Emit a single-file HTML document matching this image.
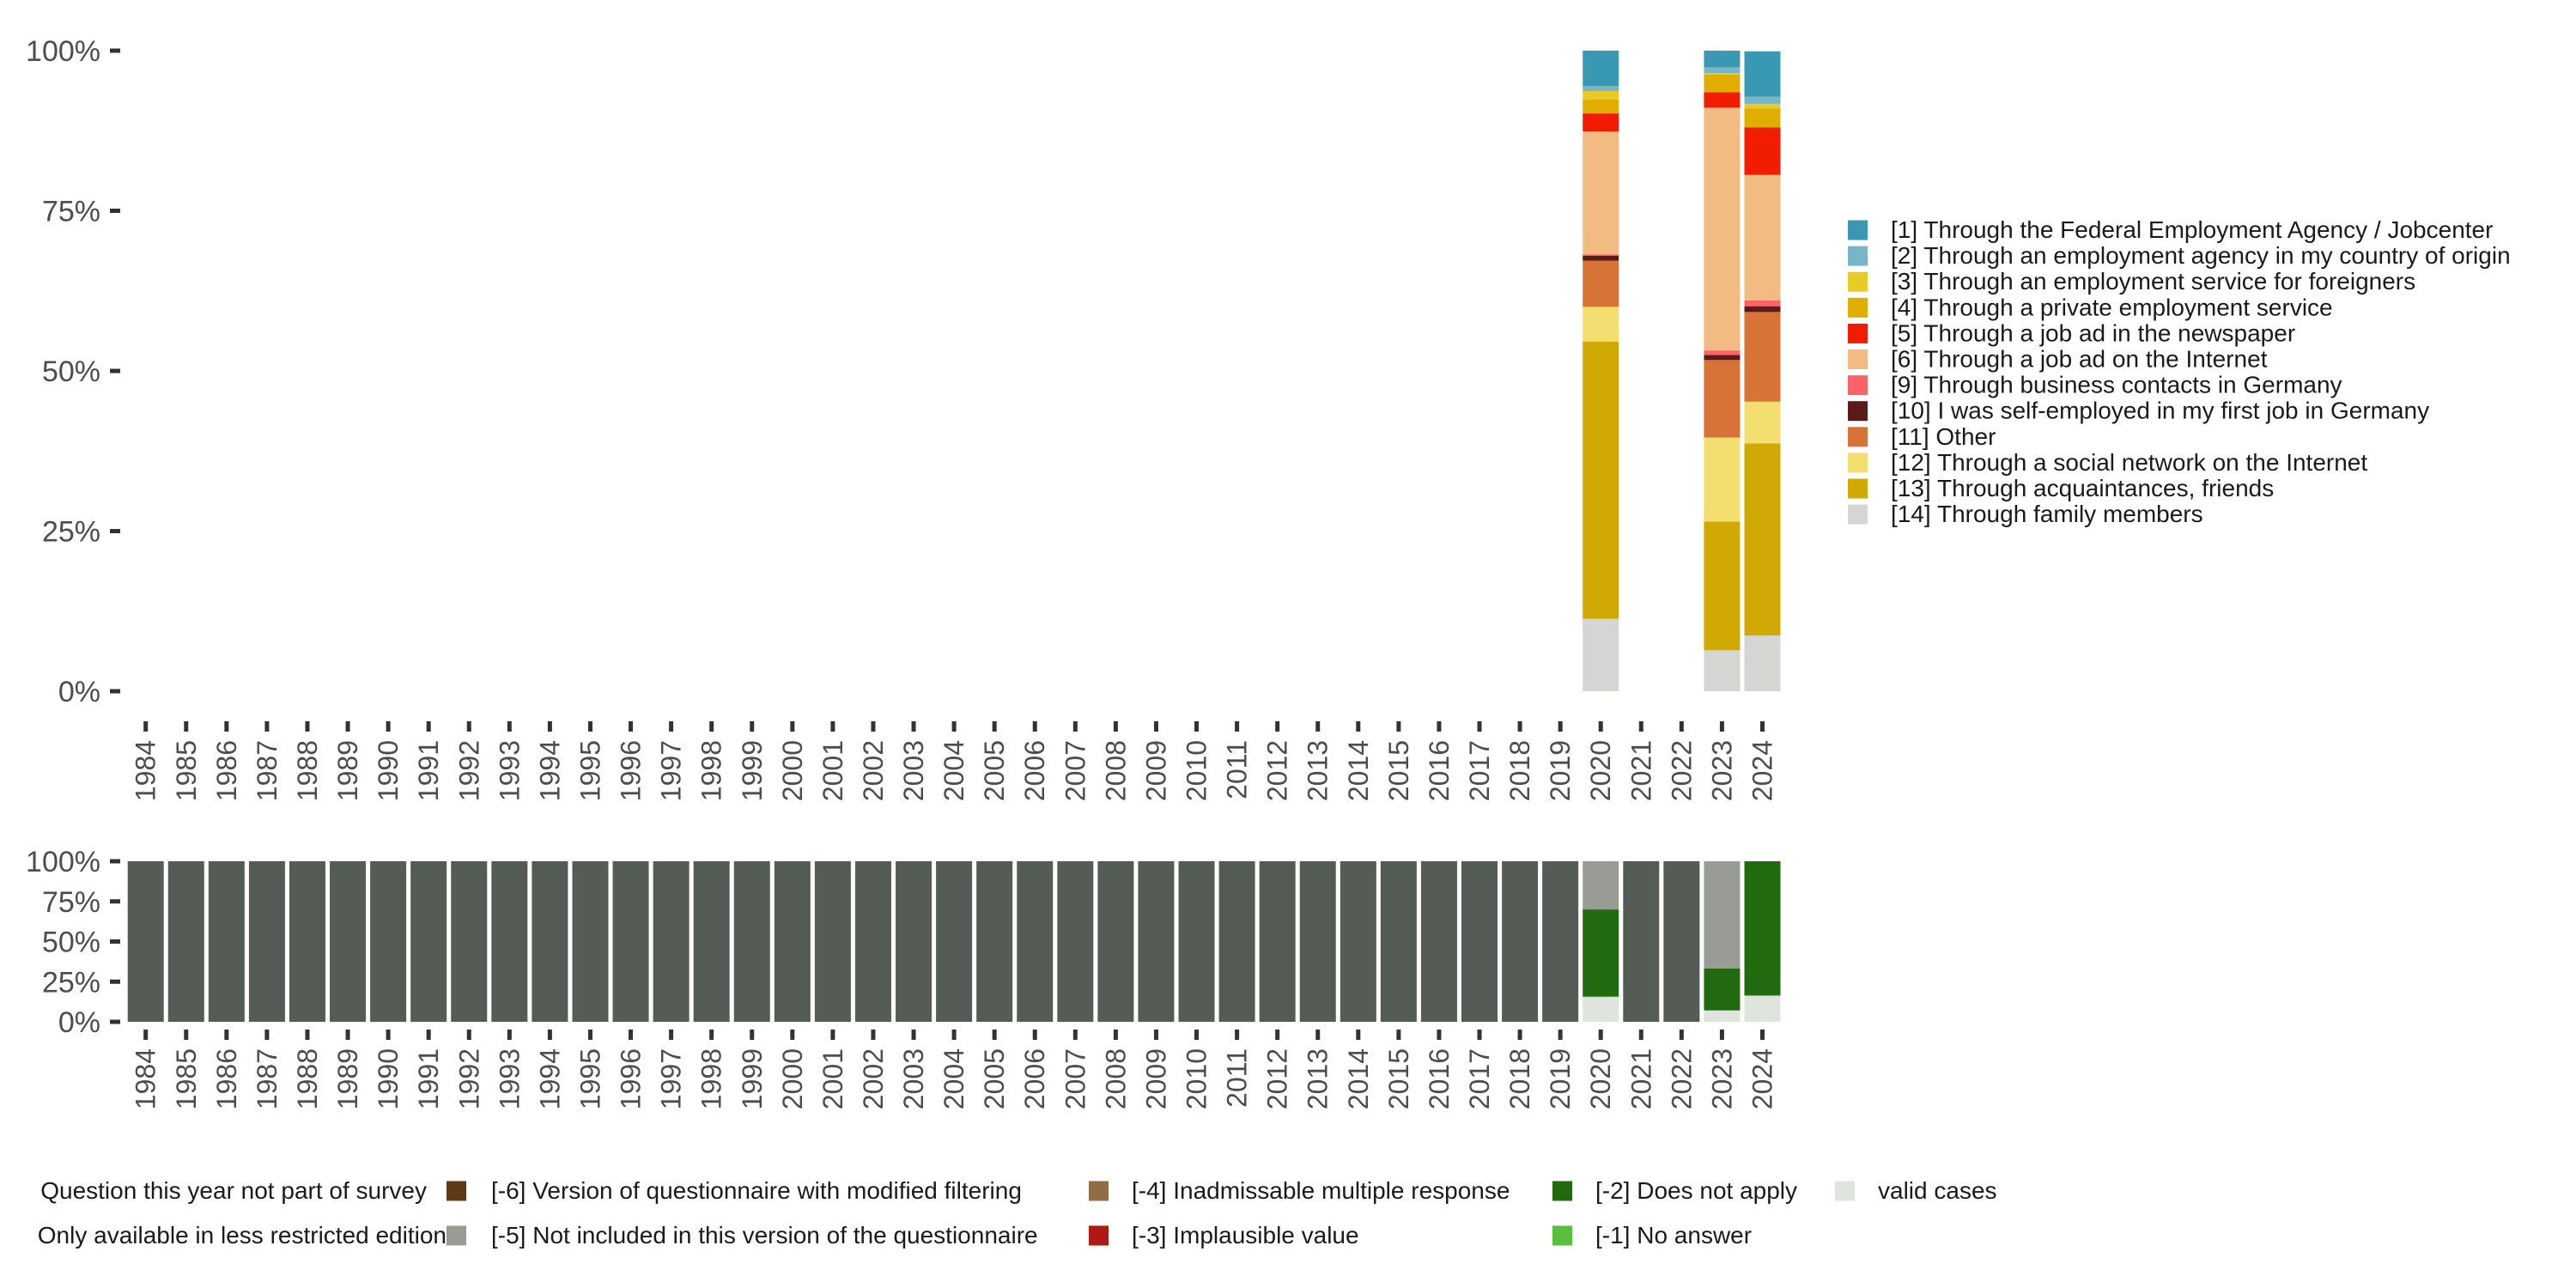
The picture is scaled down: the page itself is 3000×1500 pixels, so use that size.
<!DOCTYPE html>
<html><head><meta charset="utf-8">
<style>
html,body{margin:0;padding:0;background:#fff;width:3000px;height:1500px;overflow:hidden}
svg{display:block;font-family:"Liberation Sans",sans-serif}
</style></head>
<body>
<svg id="chart" width="3000" height="1500" viewBox="0 0 3000 1500" xmlns="http://www.w3.org/2000/svg"></svg>
<script>
const years = [];
for (let y = 1984; y <= 2024; y++) years.push(String(y));
const catLabels = ["[1] Through the Federal Employment Agency / Jobcenter","[2] Through an employment agency in my country of origin","[3] Through an employment service for foreigners","[4] Through a private employment service","[5] Through a job ad in the newspaper","[6] Through a job ad on the Internet","[9] Through business contacts in Germany","[10] I was self-employed in my first job in Germany","[11] Other","[12] Through a social network on the Internet","[13] Through acquaintances, friends","[14] Through family members"];
const catColors = ["#3a99b2","#76b6c6","#e9cb27","#e0ae00","#f21d00","#f1bb81","#fb6464","#5c1a18","#d77337","#f3df70","#d0a905","#d5d5d4"];
const topYears = ["2020","2023","2024"];
const v2020 = [5.5,0.8,1.3,2.2,2.8,19.2,0.2,0.8,7.2,5.4,43.3,11.3];
const v2023 = [2.6,0.9,0.2,2.8,2.4,37.9,0.7,0.8,12.1,13.1,20.1,6.4];
const v2024 = [7.1,1.1,0.7,3.0,7.4,19.6,0.9,0.9,14.0,6.5,30.0,8.7];
const topValues = [v2020,v2023,v2024];
const yTicks = [0,25,50,75,100];
const yTickLabels = ["0%","25%","50%","75%","100%"];

const missLabels = ["Question this year not part of survey","Only available in less restricted edition","[-2] Does not apply","[-1] No answer","valid cases"];
const missColors = ["#555b55","#989c95","#226a10","#5abf3f","#e0e4de"];
const missNotPart = years.map(y => (y==="2020"||y==="2023"||y==="2024") ? 0 : 100);
const missRestricted = years.map(y => y==="2020"?30.0 : y==="2023"?66.8 : 0);
const missDoesNotApply = years.map(y => y==="2020"?54.2 : y==="2023"?26.1 : y==="2024"?83.4 : 0);
const missNoAnswer = years.map(y => y==="2020"?0.4 : y==="2024"?0.5 : 0);
const missValid = years.map(y => y==="2020"?15.4 : y==="2023"?7.1 : y==="2024"?16.1 : 0);
const missSeries = [missNotPart,missRestricted,missDoesNotApply,missNoAnswer,missValid];

const NS = "http://www.w3.org/2000/svg";
const svgEl = document.getElementById('chart');
function mk(tag, attrs, parent){const e=document.createElementNS(NS,tag);for(const k in attrs)e.setAttribute(k,attrs[k]);(parent||svgEl).appendChild(e);return e;}

const step = 47.07, x0 = 169.7, barW = 42;
function xCenter(year){return x0 + years.indexOf(year)*step;}
const topP = {y0:805, y100:59};
const botP = {y0:1190, y100:1003};
function yScale(p, v){return p.y0 - (p.y0-p.y100)*v/100;}

function axes(p, gName, tickTop, labelEnd, fs){
  const g = mk('g',{});
  
  
  yTicks.forEach((t,i)=>{
    const y = yScale(p,t);
    const tk = mk('rect',{x:128,y:y-2.5,width:12,height:5,fill:'#333'},g);
    
    
    const tx = mk('text',{x:117,y:y+12,'text-anchor':'end','font-size':fs,fill:'#4d4d4d'},g);
    tx.textContent = yTickLabels[i];
    
    
  });
  years.forEach(yr=>{
    const cx = xCenter(yr);
    const tk = mk('rect',{x:cx-2.5,y:tickTop,width:5,height:12,fill:'#333'},g);
    
    
    const tx = mk('text',{x:0,y:0,'text-anchor':'end','font-size':32,fill:'#4d4d4d',transform:`translate(${cx+11},${labelEnd}) rotate(-90)`},g);
    tx.textContent = yr;
    
    
  });
}
axes(topP,'top-axes',840,862,34);
axes(botP,'bottom-axes',1199,1221,34);

topYears.forEach((yr,bi)=>{
  const vals = topValues[bi];
  let cum = 0;
  for (let i = vals.length-1; i >= 0; i--) {
    const yb = yScale(topP,cum), yt = yScale(topP,cum+vals[i]);
    const r = mk('rect',{x:xCenter(yr)-barW/2,y:yt,width:barW,height:Math.max(0,yb-yt),fill:catColors[i]});
    
    
    cum += vals[i];
  }
});
years.forEach((yr,yi)=>{
  let cum = 0;
  for (let s = missSeries.length-1; s >= 0; s--) {
    const v = missSeries[s][yi];
    if (!v) continue;
    const yb = yScale(botP,cum), yt = yScale(botP,cum+v);
    const r = mk('rect',{x:xCenter(yr)-barW/2,y:yt,width:barW,height:yb-yt,fill:missColors[s]});
    
    
    cum += v;
  }
});

const lg = mk('g',{});


catLabels.forEach((l,i)=>{
  const cy = 268 + i*30.1;
  const s = mk('rect',{x:2152,y:cy-11.5,width:23,height:23,fill:catColors[i]},lg);
  
  
  const t = mk('text',{x:2202,y:cy+9,'font-size':28,fill:'#1a1a1a'},lg);
  t.textContent = l;
  
  
});

const bl = mk('g',{});


const blItems = [
  {t:"Question this year not part of survey", x:497, anchor:'end', row:0, sw:null},
  {t:"[-6] Version of questionnaire with modified filtering", x:572, row:0, sw:{x:520,c:"#5e3a16"}},
  {t:"[-4] Inadmissable multiple response", x:1318, row:0, sw:{x:1268,c:"#926b47"}},
  {t:"[-2] Does not apply", x:1858, row:0, sw:{x:1808,c:"#226a10"}},
  {t:"valid cases", x:2187, row:0, sw:{x:2137,c:"#e0e4de"}},
  {t:"Only available in less restricted edition", x:520, anchor:'end', row:1, sw:null},
  {t:"[-5] Not included in this version of the questionnaire", x:572, row:1, sw:{x:520,c:"#989c95"}},
  {t:"[-3] Implausible value", x:1318, row:1, sw:{x:1268,c:"#ad1a14"}},
  {t:"[-1] No answer", x:1858, row:1, sw:{x:1808,c:"#5abf3f"}}
];
blItems.forEach(it=>{
  const cy = it.row===0 ? 1387 : 1439;
  if (it.sw) {
    const s = mk('rect',{x:it.sw.x,y:cy-11.5,width:23,height:23,fill:it.sw.c},bl);
    
    
  }
  const t = mk('text',{x:it.x,y:cy+9,'font-size':28,fill:'#1a1a1a','text-anchor':it.anchor||'start'},bl);
  t.textContent = it.t;
  
  
});
</script>
</body></html>
